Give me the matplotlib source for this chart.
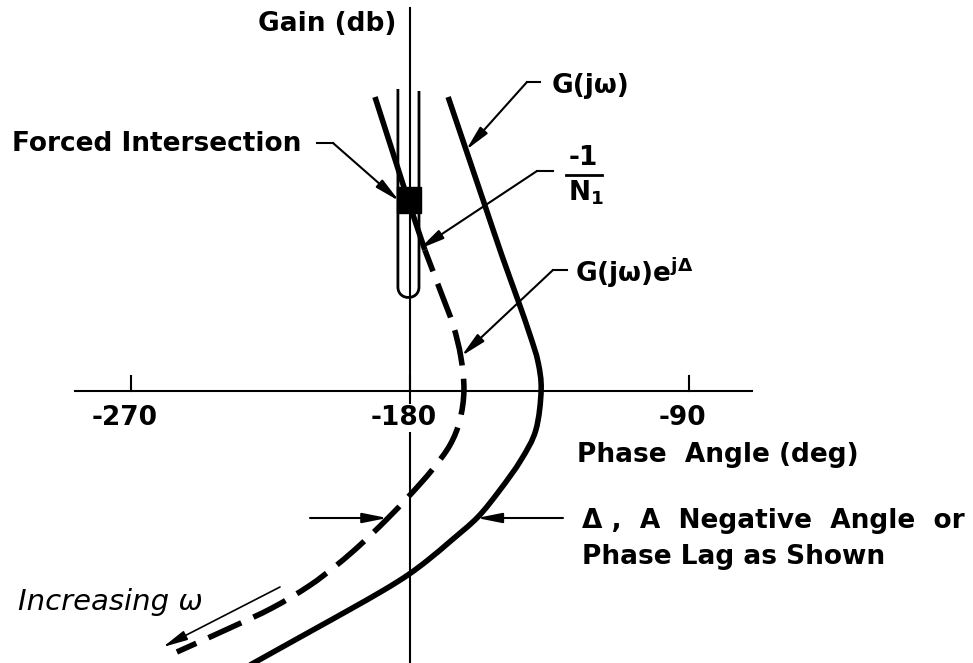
import numpy as np
import matplotlib
matplotlib.use("Agg")
import matplotlib.pyplot as plt
import matplotlib.transforms as mtransforms
from matplotlib.path import Path
from matplotlib.patches import PathPatch, Rectangle

W, H = 973, 663

# G(jw) locus on the gain-phase plane: phase (deg), gain (dB)
g_phase = [-167.7, -161.9, -156.1, -150.3, -145.2, -141.3, -138.7, -137.7,
           -139.4, -144.2, -151.0, -158.1, -166.5, -174.2, -180.7, -188.4,
           -199.7, -211.3, -222.9, -231.6]
g_gain = [29.4, 24.1, 18.8, 13.5, 9.1, 5.6, 2.9, 0.1,
          -3.9, -6.9, -9.9, -12.6, -14.9, -16.9, -18.4, -19.9,
          -21.9, -23.9, -25.9, -27.4]

# G(jw)e^(jD): solid above the forced intersection, dashed below it
gd_upper_phase = [-191.3, -185.8, -180.3, -175.2]
gd_upper_gain = [29.4, 24.1, 18.8, 14.1]
gd_lower_phase = [-175.2, -170.3, -166.1, -163.6, -162.6, -163.9, -167.1,
                  -172.9, -180.0, -187.7, -196.1, -203.6, -212.6, -224.5,
                  -238.1, -255.2]
gd_lower_gain = [14.1, 10.1, 6.6, 3.4, 0.1, -2.9, -5.4,
                 -7.9, -10.4, -12.9, -15.4, -17.4, -19.5, -21.7,
                 -23.7, -26.1]

# -1/N1 locus (narrow hairpin around -180 deg)
n1_left, n1_right = -183.9, -177.1
n1_top_left, n1_top_right = 30.2, 30.0
n1_bottom = 10.4

# forced intersection block
fi_phase = (-184.2, -176.5)
fi_gain = (17.8, 20.4)

phase_ticks = [-270, -180, -90]
phase_labels = ["-270", "-180", "-90"]


def smooth_path(xs, ys):
    # Catmull-Rom through the points, written out as cubic Bezier segments
    p = np.column_stack([xs, ys]).astype(float)
    verts = [p[0]]
    codes = [Path.MOVETO]
    for i in range(len(p) - 1):
        p0 = p[i - 1] if i > 0 else p[i]
        p3 = p[i + 2] if i + 2 < len(p) else p[i + 1]
        verts += [p[i] + (p[i + 1] - p0) / 6, p[i + 1] - (p3 - p[i]) / 6, p[i + 1]]
        codes += [Path.CURVE4] * 3
    return Path(verts, codes)


plt.rcParams["font.family"] = ["DejaVu Sans"]
plt.rcParams["font.weight"] = "bold"
plt.rcParams["mathtext.fontset"] = "dejavusans"
plt.rcParams["mathtext.default"] = "bf"

fig = plt.figure(figsize=(W / 100, H / 100), dpi=100)
ax = fig.add_axes([0, 0, 1, 1])
ax.set_xlim(-180 - 410 / 3.1, -180 + (W - 410) / 3.1)
ax.set_ylim(-(H - 391) / 10, 391 / 10)
ax.axis("off")

# pixel layout for labels (origin top-left)
px = mtransforms.Affine2D().scale(1 / W, -1 / H).translate(0, 1) + fig.transFigure

fs = 19

# axes
ax.plot([-288.1, -69.7], [0, 0], color="black", lw=1.5)
ax.plot([-180, -180], [38.3, -28], color="black", lw=1.5)
for t, lab in zip(phase_ticks, phase_labels):
    ax.plot([t, t], [0, 1.5], color="black", lw=1.5)
    ax.text(t - 2, -2.7, lab, ha="center", va="center", fontsize=fs,
            bbox=dict(facecolor="white", edgecolor="none", pad=1), zorder=5)

# curves
ax.add_patch(PathPatch(smooth_path(g_phase, g_gain), fill=False, lw=4,
                       color="black", capstyle="butt"))
ax.add_patch(PathPatch(smooth_path(gd_upper_phase, gd_upper_gain), fill=False,
                       lw=4, color="black", capstyle="butt"))
ax.add_patch(PathPatch(smooth_path(gd_lower_phase, gd_lower_gain), fill=False,
                       lw=4, color="black", capstyle="butt",
                       linestyle=(2.4, (6.5, 2.4))))

# -1/N1 hairpin
hair = Path([(n1_left, n1_top_left), (n1_left, n1_bottom),
             (n1_left, n1_bottom - 1.4), (n1_right, n1_bottom - 1.4),
             (n1_right, n1_bottom), (n1_right, n1_top_right)],
            [Path.MOVETO, Path.LINETO, Path.CURVE4, Path.CURVE4, Path.CURVE4,
             Path.LINETO])
ax.add_patch(PathPatch(hair, fill=False, lw=2, color="black"))
ax.add_patch(Rectangle((fi_phase[0], fi_gain[0]), fi_phase[1] - fi_phase[0],
                       fi_gain[1] - fi_gain[0], color="black", zorder=4))

arrow = dict(arrowstyle="-|>,head_length=1.5,head_width=0.3", color="black",
             lw=1.5, shrinkA=0, shrinkB=0, mutation_scale=10)


def leader(hook, tip, tip_coords="data"):
    # short horizontal hook from the label, then an arrow to the curve
    ax.plot([hook[0], hook[1]], [hook[2], hook[2]], color="black", lw=1.5,
            transform=px)
    ax.annotate("", xy=tip, xycoords=tip_coords, xytext=(hook[1], hook[2]),
                textcoords=px, arrowprops=arrow)


leader((317, 333, 143), (-183.5, 19.0))
leader((540, 527, 82), (g_phase[1], g_gain[1]))
leader((553, 537, 171), (-177.0, 14.2))
leader((567, 553, 270), (-163.4, 3.5))

# Delta arrows
ax.annotate("", xy=(-187.3, -12.7), xytext=(310, 518), textcoords=px,
            arrowprops=arrow)
ax.annotate("", xy=(-158.4, -12.7), xytext=(563, 518), textcoords=px,
            arrowprops=arrow)
# direction of increasing frequency
ax.annotate("", xy=(163, 647), xycoords=px, xytext=(280, 587), textcoords=px,
            arrowprops=dict(arrow, lw=1.2))

ax.text(396, 24, "Gain (db)", transform=px, ha="right", va="center", fontsize=fs)
ax.text(12, 144, "Forced Intersection", transform=px, ha="left", va="center",
        fontsize=fs)
ax.text(552, 86, "G(jω)", transform=px, ha="left", va="center", fontsize=fs)
ax.text(583, 158, "-1", transform=px, ha="center", va="center", fontsize=fs)
ax.plot([566, 602], [175, 175], color="black", lw=2, transform=px)
ax.text(586, 193, "N$_1$", transform=px, ha="center", va="center", fontsize=fs)
ax.text(575, 273, r"G(jω)e$^{j\Delta}$", transform=px, ha="left", va="center",
        fontsize=fs)
ax.text(577, 455, "Phase  Angle (deg)", transform=px, ha="left", va="center",
        fontsize=fs)
ax.text(582, 521, "Δ ,  A  Negative  Angle  or", transform=px, ha="left",
        va="center", fontsize=fs)
ax.text(582, 557, "Phase Lag as Shown", transform=px, ha="left", va="center",
        fontsize=fs)
ax.text(18, 602, "Increasing ω", transform=px, ha="left", va="center",
        fontsize=21, style="italic", fontweight="normal")

fig.savefig("out.png", dpi=100, facecolor="white")
